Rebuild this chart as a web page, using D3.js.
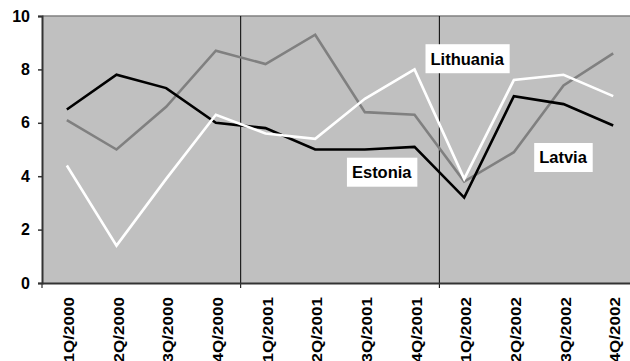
<!DOCTYPE html>
<html>
<head>
<meta charset="utf-8">
<script src="https://cdn.jsdelivr.net/npm/d3@7/dist/d3.min.js"></script>
<style>
  html, body { margin: 0; padding: 0; background: #fff; }
  svg { display: block; font-family: "Liberation Sans", Arial, sans-serif; font-weight: bold; }
</style>
</head>
<body>
<svg id="chart" width="630" height="361"></svg>
<script>
// Quarterly values, 2000-2002
const quarters = ["1Q/2000","2Q/2000","3Q/2000","4Q/2000",
                  "1Q/2001","2Q/2001","3Q/2001","4Q/2001",
                  "1Q/2002","2Q/2002","3Q/2002","4Q/2002"];
const estonia   = [6.5, 7.8, 7.3, 6.0, 5.8, 5.0, 5.0, 5.1, 3.2, 7.0, 6.7, 5.9];
const latvia    = [6.1, 5.0, 6.6, 8.7, 8.2, 9.3, 6.4, 6.3, 3.8, 4.9, 7.4, 8.6];
const lithuania = [4.4, 1.4, 3.9, 6.3, 5.6, 5.4, 6.9, 8.0, 3.9, 7.6, 7.8, 7.0];
const yTicks = [0, 2, 4, 6, 8, 10];
const yearBreaks = [0, 4, 8, 12];           // category index where each year starts
// Series labels: name, category position (index), value
const labelNames  = ["Lithuania", "Latvia", "Estonia"];
const labelIndex  = [8.56, 10.49, 6.84];
const labelValues = [8.4, 4.7, 4.15];

const svg = d3.select("#chart");
const plotLeft = 42, plotTop = 16, plotBottom = 283, bandW = 49.67;
const plotRight = plotLeft + bandW * quarters.length;

const x = d3.scaleBand().domain(quarters).range([plotLeft, plotRight]).padding(0);
const xPos = i => plotLeft + bandW * i;      // continuous position by category index
const y = d3.scaleLinear().domain([0, 10]).range([plotBottom, plotTop]);

// plot background
svg.append("rect")
  .attr("x", plotLeft).attr("y", plotTop)
  .attr("width", plotRight - plotLeft).attr("height", plotBottom - plotTop)
  .attr("fill", "#c0c0c0");
svg.append("line")
  .attr("x1", plotLeft).attr("x2", plotRight).attr("y1", plotTop).attr("y2", plotTop)
  .attr("stroke", "#808080").attr("stroke-width", 1.5);

// year separators with ticks below the axis
svg.append("g").selectAll("line").data(yearBreaks).join("line")
  .attr("x1", d => xPos(d)).attr("x2", d => xPos(d))
  .attr("y1", d => (d === 0 || d === 12) ? plotBottom : plotTop)
  .attr("y2", plotBottom + 5)
  .attr("stroke", "#000").attr("stroke-width", 1);

// y axis
const yAxis = svg.append("g")
  .attr("transform", `translate(${plotLeft},0)`)
  .call(d3.axisLeft(y).tickValues(yTicks).tickSize(4).tickPadding(8).tickFormat(d3.format("d")));
yAxis.select(".domain").attr("stroke", "#333").attr("stroke-width", 2);
yAxis.selectAll(".tick line").attr("stroke", "#333").attr("stroke-width", 1.5);
yAxis.selectAll("text")
  .attr("fill", "#000").attr("font-size", 16).attr("font-weight", "bold")
  .attr("font-family", "\"Liberation Sans\", Arial, sans-serif");

// x axis
const xAxis = svg.append("g")
  .attr("transform", `translate(0,${plotBottom})`)
  .call(d3.axisBottom(x).tickSize(0).tickPadding(0));
xAxis.select(".domain").attr("stroke", "#333").attr("stroke-width", 2);
xAxis.selectAll("text")
  .attr("fill", "#000").attr("font-size", 14).attr("font-weight", "bold")
  .attr("font-family", "\"Liberation Sans\", Arial, sans-serif")
  .attr("text-anchor", "end")
  .attr("dy", null)
  .attr("y", 0)
  .attr("transform", "translate(7,14) rotate(-90) scale(1.22,1)");

// series lines
const line = d3.line()
  .x((d, i) => x(quarters[i]) + x.bandwidth() / 2)
  .y(d => y(d));
const series = [
  { values: latvia,    color: "#808080" },
  { values: estonia,   color: "#000000" },
  { values: lithuania, color: "#ffffff" }
];
svg.append("g").selectAll("path").data(series).join("path")
  .attr("d", d => line(d.values))
  .attr("fill", "none")
  .attr("stroke", d => d.color)
  .attr("stroke-width", 2.6)
  .attr("stroke-linejoin", "miter");

// series name labels on white boxes
const labels = svg.append("g").selectAll("g").data(labelNames).join("g")
  .attr("transform", (d, i) => `translate(${xPos(labelIndex[i])},${y(labelValues[i])})`);
labels.append("text")
  .attr("text-anchor", "middle")
  .attr("dy", "0.36em")
  .attr("font-size", 16.5)
  .attr("fill", "#000")
  .text(d => d);
labels.each(function () {
  const g = d3.select(this);
  const b = g.select("text").node().getBBox();
  g.insert("rect", "text")
    .attr("x", b.x - 5).attr("y", -14.5)
    .attr("width", b.width + 10).attr("height", 29)
    .attr("fill", "#fff");
});
</script>
</body>
</html>
